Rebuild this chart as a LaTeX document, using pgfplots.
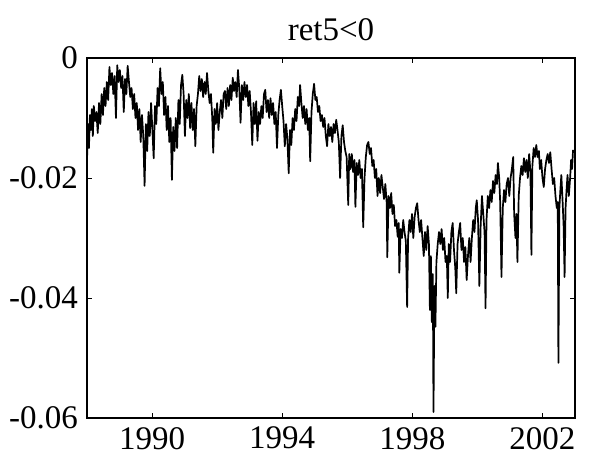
\documentclass[border=0pt]{standalone}
\usepackage{fontspec}
\setmainfont{Liberation Serif}
\usepackage{pgfplots}
\pgfplotsset{compat=1.18}

\begin{document}
\begin{tikzpicture}
\path[use as bounding box] (-43.5pt,-22.5pt) rectangle (258.5pt,209pt);
\begin{axis}[
  anchor=south west, at={(0,0)},
  width=244pt, height=180pt, scale only axis,
  xmin=1988, xmax=2003,
  ymin=-0.06, ymax=0,
  scaled y ticks=false, scaled x ticks=false,
  xtick={1990,1994,1998,2002},
  xticklabels={1990,1994,1998,2002},
  ytick={-0.06,-0.04,-0.02,0},
  yticklabels={-0.06,-0.04,-0.02,0},
  tick align=inside,
  major tick length=2.5pt,
  tick style={black, line width=0.4pt},
  axis line style={line width=0.6pt},
  /pgf/number format/assume math mode=true,
  ticklabel style={font=\rmfamily\fontsize{16.5}{19}\selectfont},
  xticklabel style={yshift=-1pt},
  yticklabel style={xshift=-1pt},
  title={ret5<0},
  title style={font=\rmfamily\fontsize{16.5}{19}\selectfont, yshift=-1pt},
  clip=true,
]
\addplot[black, line width=0.85pt, line join=round] coordinates {
(1988.00,-0.0172) (1988.03,-0.0110) (1988.06,-0.0150) (1988.09,-0.0095) (1988.12,-0.0120)
(1988.15,-0.0085) (1988.18,-0.0130) (1988.21,-0.0080) (1988.25,-0.0105) (1988.29,-0.0090)
(1988.33,-0.0125) (1988.37,-0.0075) (1988.41,-0.0110) (1988.45,-0.0060) (1988.49,-0.0095)
(1988.53,-0.0050) (1988.57,-0.0080) (1988.61,-0.0040) (1988.65,-0.0070) (1988.69,-0.0015)
(1988.73,-0.0045) (1988.77,-0.0025) (1988.81,-0.0060) (1988.85,-0.0030) (1988.89,-0.0100)
(1988.93,-0.0012) (1988.97,-0.0040) (1989.01,-0.0020) (1989.05,-0.0050) (1989.09,-0.0030)
(1989.13,-0.0090) (1989.17,-0.0035) (1989.21,-0.0060) (1989.25,-0.0013) (1989.29,-0.0040)
(1989.33,-0.0065) (1989.37,-0.0050) (1989.41,-0.0085) (1989.45,-0.0060) (1989.49,-0.0100)
(1989.53,-0.0075) (1989.57,-0.0120) (1989.61,-0.0085) (1989.65,-0.0140) (1989.69,-0.0095)
(1989.73,-0.0130) (1989.77,-0.0213) (1989.81,-0.0110) (1989.85,-0.0155) (1989.89,-0.0090)
(1989.93,-0.0130) (1989.97,-0.0075) (1990.01,-0.0120) (1990.05,-0.0167) (1990.09,-0.0080)
(1990.13,-0.0110) (1990.17,-0.0050) (1990.21,-0.0080) (1990.25,-0.0017) (1990.29,-0.0060)
(1990.33,-0.0040) (1990.37,-0.0095) (1990.41,-0.0065) (1990.45,-0.0120) (1990.49,-0.0080)
(1990.53,-0.0140) (1990.57,-0.0100) (1990.61,-0.0203) (1990.65,-0.0115) (1990.69,-0.0155)
(1990.73,-0.0100) (1990.77,-0.0150) (1990.81,-0.0070) (1990.85,-0.0110) (1990.89,-0.0045)
(1990.93,-0.0028) (1990.97,-0.0060) (1991.01,-0.0130) (1991.05,-0.0070) (1991.09,-0.0100)
(1991.13,-0.0060) (1991.17,-0.0117) (1991.21,-0.0075) (1991.25,-0.0120) (1991.29,-0.0085)
(1991.33,-0.0147) (1991.37,-0.0080) (1991.41,-0.0060) (1991.45,-0.0030) (1991.49,-0.0055)
(1991.53,-0.0035) (1991.57,-0.0065) (1991.61,-0.0040) (1991.65,-0.0060) (1991.69,-0.0025)
(1991.73,-0.0055) (1991.77,-0.0075) (1991.81,-0.0060) (1991.85,-0.0100) (1991.88,-0.0158)
(1991.92,-0.0085) (1991.96,-0.0110) (1992.00,-0.0075) (1992.04,-0.0120) (1992.08,-0.0090)
(1992.12,-0.0070) (1992.16,-0.0100) (1992.20,-0.0060) (1992.24,-0.0055) (1992.28,-0.0085)
(1992.32,-0.0050) (1992.36,-0.0080) (1992.40,-0.0045) (1992.44,-0.0070) (1992.48,-0.0033)
(1992.52,-0.0055) (1992.56,-0.0040) (1992.60,-0.0065) (1992.64,-0.0020) (1992.68,-0.0050)
(1992.72,-0.0108) (1992.76,-0.0045) (1992.80,-0.0070) (1992.84,-0.0040) (1992.88,-0.0065)
(1992.92,-0.0045) (1992.96,-0.0080) (1993.00,-0.0055) (1993.04,-0.0090) (1993.08,-0.0145)
(1993.12,-0.0075) (1993.16,-0.0110) (1993.20,-0.0072) (1993.24,-0.0138) (1993.28,-0.0090)
(1993.32,-0.0110) (1993.36,-0.0080) (1993.40,-0.0100) (1993.44,-0.0060) (1993.48,-0.0053)
(1993.52,-0.0090) (1993.56,-0.0070) (1993.60,-0.0100) (1993.64,-0.0067) (1993.68,-0.0095)
(1993.72,-0.0075) (1993.76,-0.0110) (1993.80,-0.0090) (1993.84,-0.0150) (1993.88,-0.0095)
(1993.92,-0.0070) (1993.96,-0.0053) (1994.00,-0.0080) (1994.04,-0.0105) (1994.08,-0.0147)
(1994.12,-0.0110) (1994.16,-0.0135) (1994.20,-0.0192) (1994.24,-0.0120) (1994.28,-0.0145)
(1994.32,-0.0100) (1994.36,-0.0120) (1994.40,-0.0085) (1994.44,-0.0105) (1994.48,-0.0065)
(1994.52,-0.0080) (1994.55,-0.0045) (1994.59,-0.0075) (1994.63,-0.0100) (1994.67,-0.0080)
(1994.71,-0.0110) (1994.75,-0.0085) (1994.79,-0.0120) (1994.83,-0.0100) (1994.86,-0.0172)
(1994.90,-0.0090) (1994.94,-0.0060) (1994.98,-0.0043) (1995.02,-0.0070) (1995.06,-0.0065)
(1995.10,-0.0090) (1995.14,-0.0080) (1995.18,-0.0105) (1995.22,-0.0095) (1995.26,-0.0115)
(1995.30,-0.0100) (1995.34,-0.0130) (1995.38,-0.0147) (1995.42,-0.0110) (1995.46,-0.0130)
(1995.50,-0.0115) (1995.54,-0.0140) (1995.58,-0.0110) (1995.62,-0.0125) (1995.66,-0.0103)
(1995.70,-0.0120) (1995.74,-0.0140) (1995.78,-0.0200) (1995.82,-0.0130) (1995.86,-0.0112)
(1995.90,-0.0140) (1995.94,-0.0155) (1995.98,-0.0165) (1996.03,-0.0245) (1996.06,-0.0160)
(1996.10,-0.0185) (1996.14,-0.0160) (1996.18,-0.0190) (1996.22,-0.0170) (1996.25,-0.0248)
(1996.29,-0.0175) (1996.33,-0.0195) (1996.37,-0.0170) (1996.41,-0.0200) (1996.45,-0.0185)
(1996.49,-0.0282) (1996.53,-0.0200) (1996.57,-0.0165) (1996.61,-0.0145) (1996.65,-0.0140)
(1996.69,-0.0160) (1996.73,-0.0150) (1996.77,-0.0180) (1996.81,-0.0170) (1996.85,-0.0200)
(1996.89,-0.0185) (1996.93,-0.0230) (1996.97,-0.0200) (1997.01,-0.0225) (1997.05,-0.0195)
(1997.09,-0.0215) (1997.13,-0.0235) (1997.17,-0.0210) (1997.21,-0.0240) (1997.23,-0.0332)
(1997.27,-0.0230) (1997.31,-0.0250) (1997.35,-0.0225) (1997.39,-0.0260) (1997.43,-0.0245)
(1997.47,-0.0280) (1997.51,-0.0270) (1997.55,-0.0298) (1997.58,-0.0275) (1997.60,-0.0358)
(1997.64,-0.0285) (1997.68,-0.0300) (1997.72,-0.0270) (1997.76,-0.0290) (1997.80,-0.0305)
(1997.84,-0.0415) (1997.87,-0.0300) (1997.91,-0.0270) (1997.95,-0.0290) (1997.99,-0.0260)
(1998.03,-0.0300) (1998.07,-0.0265) (1998.11,-0.0250) (1998.15,-0.0242) (1998.19,-0.0270)
(1998.23,-0.0290) (1998.27,-0.0270) (1998.31,-0.0300) (1998.35,-0.0330) (1998.39,-0.0290)
(1998.43,-0.0320) (1998.47,-0.0280) (1998.51,-0.0310) (1998.54,-0.0420) (1998.57,-0.0330)
(1998.60,-0.0440) (1998.63,-0.0360) (1998.65,-0.0590) (1998.68,-0.0380) (1998.71,-0.0448)
(1998.74,-0.0340) (1998.78,-0.0310) (1998.82,-0.0290) (1998.86,-0.0310) (1998.90,-0.0285)
(1998.94,-0.0320) (1998.98,-0.0300) (1999.02,-0.0340) (1999.06,-0.0330) (1999.09,-0.0400)
(1999.12,-0.0310) (1999.16,-0.0340) (1999.20,-0.0290) (1999.24,-0.0275) (1999.28,-0.0320)
(1999.32,-0.0350) (1999.35,-0.0392) (1999.39,-0.0310) (1999.43,-0.0290) (1999.47,-0.0275)
(1999.51,-0.0320) (1999.55,-0.0300) (1999.59,-0.0340) (1999.63,-0.0315) (1999.67,-0.0370)
(1999.71,-0.0330) (1999.75,-0.0300) (1999.79,-0.0340) (1999.83,-0.0300) (1999.87,-0.0270)
(1999.91,-0.0290) (1999.95,-0.0250) (1999.98,-0.0237) (2000.02,-0.0270) (2000.06,-0.0380)
(2000.10,-0.0280) (2000.14,-0.0230) (2000.18,-0.0260) (2000.22,-0.0290) (2000.25,-0.0417)
(2000.28,-0.0270) (2000.32,-0.0230) (2000.36,-0.0250) (2000.40,-0.0220) (2000.44,-0.0240)
(2000.48,-0.0205) (2000.52,-0.0225) (2000.56,-0.0195) (2000.60,-0.0210) (2000.63,-0.0175)
(2000.67,-0.0200) (2000.70,-0.0240) (2000.74,-0.0365) (2000.78,-0.0250) (2000.82,-0.0220)
(2000.86,-0.0240) (2000.90,-0.0210) (2000.94,-0.0200) (2000.98,-0.0230) (2001.02,-0.0200)
(2001.06,-0.0185) (2001.10,-0.0165) (2001.13,-0.0260) (2001.17,-0.0300) (2001.20,-0.0260)
(2001.23,-0.0340) (2001.27,-0.0230) (2001.31,-0.0200) (2001.35,-0.0180) (2001.39,-0.0195)
(2001.43,-0.0167) (2001.47,-0.0190) (2001.51,-0.0170) (2001.55,-0.0200) (2001.59,-0.0160)
(2001.63,-0.0190) (2001.66,-0.0328) (2001.69,-0.0180) (2001.73,-0.0150) (2001.77,-0.0165)
(2001.81,-0.0145) (2001.85,-0.0165) (2001.89,-0.0155) (2001.92,-0.0185) (2001.96,-0.0170)
(2002.00,-0.0200) (2002.04,-0.0215) (2002.08,-0.0185) (2002.12,-0.0170) (2002.16,-0.0160)
(2002.20,-0.0175) (2002.24,-0.0157) (2002.28,-0.0185) (2002.32,-0.0210) (2002.36,-0.0200)
(2002.40,-0.0230) (2002.44,-0.0250) (2002.47,-0.0240) (2002.49,-0.0508) (2002.52,-0.0250)
(2002.55,-0.0220) (2002.58,-0.0195) (2002.62,-0.0240) (2002.65,-0.0280) (2002.68,-0.0365)
(2002.71,-0.0250) (2002.74,-0.0220) (2002.77,-0.0195) (2002.81,-0.0230) (2002.85,-0.0200)
(2002.88,-0.0170) (2002.91,-0.0185) (2002.94,-0.0153)
};
\end{axis}
\end{tikzpicture}
\end{document}
